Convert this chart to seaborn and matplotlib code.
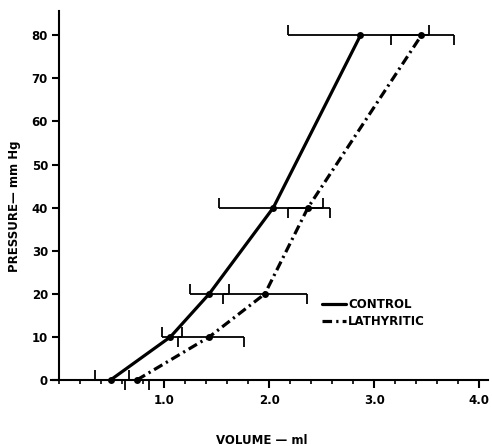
import numpy as np
import pandas as pd
import matplotlib
matplotlib.use("Agg")
import matplotlib.pyplot as plt
from matplotlib.lines import Line2D
from matplotlib.ticker import MultipleLocator
import seaborn as sns

# pressure steps (mm Hg) and mean volume (ml) with the ends of the error bars
pressure = [0, 10, 20, 40, 80]
control = [0.49, 1.06, 1.43, 2.04, 2.87]
control_lo = [0.34, 0.98, 1.25, 1.52, 2.18]
control_hi = [0.67, 1.17, 1.62, 2.51, 3.52]
lathyritic = [0.74, 1.43, 1.96, 2.37, 3.45]
lathyritic_lo = [0.63, 1.13, 1.56, 2.18, 3.16]
lathyritic_hi = [0.86, 1.76, 2.36, 2.58, 3.76]
xtick_vals = [1, 2, 3, 4]
xtick_labels = ["1.0", "2.0", "3.0", "4.0"]
ytick_vals = [0, 10, 20, 30, 40, 50, 60, 70, 80]

df = pd.DataFrame({
    "Pressure": pressure * 2,
    "Volume": control + lathyritic,
    "Group": ["CONTROL"] * 5 + ["LATHYRITIC"] * 5,
})

sns.set_style("ticks")
plt.rcParams["font.family"] = ["DejaVu Sans"]
plt.rcParams["font.weight"] = "bold"
for key in ["text.color", "axes.labelcolor", "xtick.color", "ytick.color", "axes.edgecolor"]:
    plt.rcParams[key] = "black"

fig = plt.figure(figsize=(4.92, 4.46), dpi=100)
ax = fig.add_axes([0.103, 0.148, 0.888, 0.827])

dash_style = (3.0, 1.3, 0.7, 1.3)
sns.lineplot(data=df, x="Volume", y="Pressure", hue="Group", style="Group",
             palette={"CONTROL": "black", "LATHYRITIC": "black"},
             dashes={"CONTROL": "", "LATHYRITIC": dash_style},
             markers={"CONTROL": "o", "LATHYRITIC": "o"},
             markersize=5, markeredgewidth=0, linewidth=2.3,
             estimator=None, sort=False, legend=False, ax=ax)
for ln in ax.lines:
    ln.set_clip_on(False)

# error bars: control caps point up, lathyritic caps point down
for mean, lo, hi, cap in [(control, control_lo, control_hi, 2),
                          (lathyritic, lathyritic_lo, lathyritic_hi, 3)]:
    m = np.array(mean)
    err = [m - np.array(lo), np.array(hi) - m]
    eb = ax.errorbar(m, pressure, xerr=err, fmt="none", ecolor="black",
                     elinewidth=1.3, capsize=4, capthick=1.3)
    for cl in eb[1]:
        cl.set_marker(cap)
        cl.set_markersize(7.5)
        cl.set_markeredgewidth(1.3)
        cl.set_clip_on(False)
    for lc in eb[2]:
        lc.set_clip_on(False)

ax.set_xlim(-0.08, 4.08)
ax.set_ylim(0, 85.6)
ax.spines["left"].set_position(("data", 0))
ax.spines["right"].set_visible(False)
ax.spines["top"].set_visible(False)
ax.spines["left"].set_linewidth(1.5)
ax.spines["bottom"].set_linewidth(1.5)

ax.set_xticks(xtick_vals)
ax.set_xticklabels(xtick_labels)
ax.xaxis.set_minor_locator(MultipleLocator(0.2))
ax.set_yticks(ytick_vals)
ax.tick_params(axis="x", which="major", length=6, width=1.5, pad=4, labelsize=8.5, colors="black")
ax.tick_params(axis="x", which="minor", length=3, width=1.2, colors="black")
ax.tick_params(axis="y", which="major", length=5, width=1.5, pad=3, labelsize=8.5, colors="black")
for lab in ax.get_xticklabels() + ax.get_yticklabels():
    lab.set_fontweight("bold")
ax.set_xlabel("")
ax.set_ylabel("")

fig.text(15 / 492, 1 - 206 / 446, "PRESSURE\u2014 mm Hg", rotation=90,
         ha="center", va="center", fontsize=8.5, fontweight="bold", color="black")
fig.text(262 / 492, 1 - 440 / 446, "VOLUME \u2014 ml",
         ha="center", va="center", fontsize=8.5, fontweight="bold", color="black")

handles = [Line2D([], [], color="black", lw=2.3),
           Line2D([], [], color="black", lw=2.3, linestyle=(0, dash_style))]
fig.legend(handles, ["CONTROL", "LATHYRITIC"], loc="center left",
           bbox_to_anchor=(322 / 492, 1 - 313 / 446), frameon=False,
           borderpad=0, borderaxespad=0, handlelength=2.0,
           handletextpad=0.2, labelspacing=0.35,
           prop={"size": 8.5, "weight": "bold"}, labelcolor="black")

fig.savefig("out.png", dpi=100, facecolor="white")
